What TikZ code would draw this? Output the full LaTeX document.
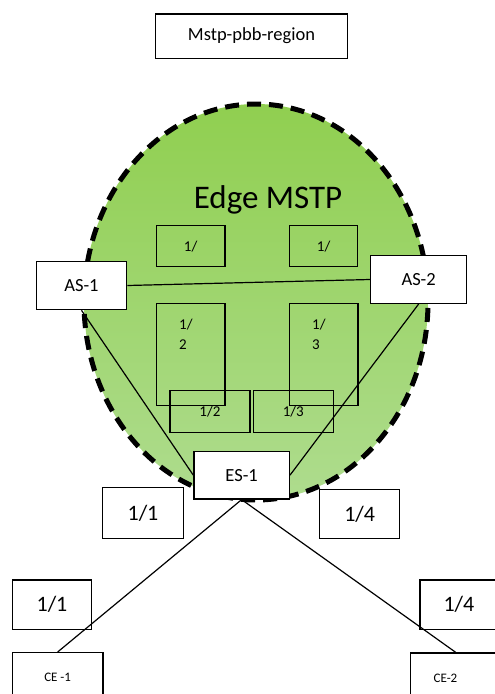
\documentclass[tikz,border=0pt]{standalone}
\usepackage{fontspec}
\setmainfont{Carlito}
\definecolor{topg}{HTML}{90CF50}
\definecolor{botg}{HTML}{AEDC8E}
\begin{document}
\begin{tikzpicture}[x=1pt,y=-1pt,
  box/.style={draw, line width=1.3pt, inner sep=0pt, anchor=north west},
  wbox/.style={box, fill=white},
  conn/.style={line width=1.2pt},
  fA/.style={font=\fontsize{18.5}{22}\selectfont},
  fB/.style={font=\fontsize{18.5}{22}\selectfont},
  fC/.style={font=\fontsize{15}{20}\selectfont},
  fD/.style={font=\fontsize{22}{26}\selectfont},
  fE/.style={font=\fontsize{13}{16}\selectfont}]
\useasboundingbox (0,0) rectangle (495,694);
\clip (0,0) rectangle (495,694);
% region
\shade[top color=topg, bottom color=botg] (256,302) ellipse [x radius=172pt, y radius=198pt];
\draw[line width=5pt, dash pattern=on 14pt off 8pt] (256,302) ellipse [x radius=172pt, y radius=198pt];
% title
\node[box, fA, minimum width=191.7, minimum height=44.4] (title) at (155,13.3) {Mstp-pbb-region};
\node[font=\fontsize{33}{38}\selectfont, anchor=base] (edge) at (268,208) {Edge MSTP};
% inner boxes
\node[box, fC, minimum width=68.6, minimum height=41] (s1) at (155.7,225) {1/};
\node[box, fC, minimum width=68, minimum height=41] (s2) at (289,225) {1/};
\node[box, minimum width=68.6, minimum height=102.3] (tall1) at (155.7,302.7) {};
\node[box, minimum width=68.6, minimum height=102.3] (tall2) at (288.7,302.7) {};
\node[fC, anchor=north west, inner sep=0pt, align=left] (t1) at (179,319) {1/\\2};
\node[fC, anchor=north west, inner sep=0pt, align=left] (t2) at (312,319) {1/\\3};
\node[box, fC, minimum width=80, minimum height=42] (low1) at (169.3,390) {1/2};
\node[box, fC, minimum width=80, minimum height=42] (low2) at (252.7,390) {1/3};
% switches
\node[wbox, fB, minimum width=90.3, minimum height=48.3] (as1) at (35.7,260.7) {AS-1};
\node[wbox, fB, minimum width=96, minimum height=47.7] (as2) at (370,255) {AS-2};
\node[wbox, fB, minimum width=95.4, minimum height=47.6] (es1) at (193.3,450.7) {ES-1};
% port labels
\node[wbox, fD, minimum width=80.7, minimum height=51.3] (p11a) at (102,486.7) {1/1};
\node[wbox, fD, minimum width=80, minimum height=49.3] (p14a) at (319,488.7) {1/4};
\node[wbox, fD, minimum width=79.3, minimum height=49.7] (p11b) at (11.7,579.3) {1/1};
\node[wbox, fD, minimum width=78, minimum height=49.7] (p14b) at (419.3,579.3) {1/4};
% customer edges
\node[wbox, fE, minimum width=90.6, minimum height=50] (ce1) at (11.7,652) {CE -1};
\node[wbox, fE, minimum width=90, minimum height=50, text width=90pt, align=left] (ce2) at (410,652.3) {\hspace*{23pt}CE-2};
% connectors
\draw[conn] (as1.east) -- (as2.west);
\draw[conn] (as1.south) -- (es1.west);
\draw[conn] (as2.south) -- (es1.east);
\draw[conn] (es1.south) -- (ce1.north);
\draw[conn] (es1.south) -- (ce2.north);
\end{tikzpicture}
\end{document}
